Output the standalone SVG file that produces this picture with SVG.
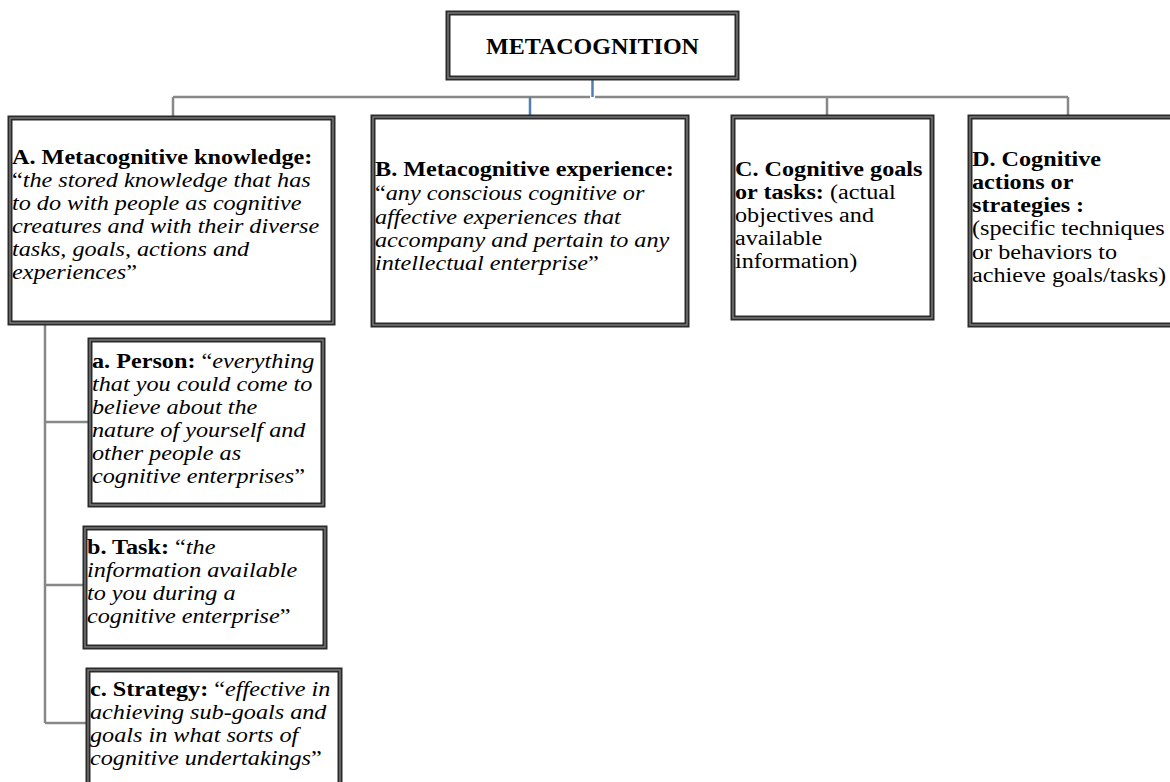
<svg xmlns="http://www.w3.org/2000/svg" width="1170" height="782" viewBox="0 0 1170 782">
<style>
.ob{fill:#fff;stroke:#2a2a2a;stroke-width:5}
.ib{fill:none;stroke:#8a8a8a;stroke-width:1.2}
.t{font-family:"Liberation Serif","Times New Roman",serif;font-size:20px;fill:#000}
.tt{font-family:"Liberation Serif","Times New Roman",serif;font-size:24px;font-weight:bold;fill:#000}
.b{font-weight:bold}
.i{font-style:italic}
.g{stroke:#888;stroke-width:2.5;fill:none}
.bl{stroke:#4f7fb5;stroke-width:2.5;fill:none}
</style>
<rect width="1170" height="782" fill="#fff"/>
<g id="connectors">
<path class="g" d="M173 97H590M595 97H1068M173 97V118M827 97V117M1068 97V117"/>
<path class="bl" d="M592.5 78V97M530 97V117"/>
<path class="g" d="M45 323V723M45 422H90M45 585H85M45 723H88"/>
</g>
<g id="metacognition">
<rect class="ob" x="448" y="13" width="289" height="65"/>
<rect class="ib" x="448" y="13" width="289" height="65"/>
<text class="tt" x="592.5" y="54" text-anchor="middle">METACOGNITION</text>
</g>
<g id="nodeA">
<rect class="ob" x="10" y="118" width="323" height="205"/>
<rect class="ib" x="10" y="118" width="323" height="205"/>
<text class="t" transform="translate(12,0) scale(1.21,1)"><tspan class="b" x="0" y="164">A. Metacognitive knowledge:</tspan><tspan x="0" y="187">“<tspan class="i">the stored knowledge that has</tspan></tspan><tspan class="i" x="0" y="210">to do with people as cognitive</tspan><tspan class="i" x="0" y="233">creatures and with their diverse</tspan><tspan class="i" x="0" y="256">tasks, goals, actions and</tspan><tspan x="0" y="279"><tspan class="i">experiences</tspan>”</tspan></text>
</g>
<g id="nodeB">
<rect class="ob" x="373" y="117" width="314" height="208"/>
<rect class="ib" x="373" y="117" width="314" height="208"/>
<text class="t" transform="translate(375,0) scale(1.21,1)"><tspan class="b" x="0" y="176">B. Metacognitive experience:</tspan><tspan x="0" y="200">“<tspan class="i">any conscious cognitive or</tspan></tspan><tspan class="i" x="0" y="224">affective experiences that</tspan><tspan class="i" x="0" y="247">accompany and pertain to any</tspan><tspan x="0" y="270"><tspan class="i">intellectual enterprise</tspan>”</tspan></text>
</g>
<g id="nodeC">
<rect class="ob" x="733" y="117" width="199" height="201"/>
<rect class="ib" x="733" y="117" width="199" height="201"/>
<text class="t" transform="translate(735,0) scale(1.21,1)"><tspan class="b" x="0" y="176">C. Cognitive goals</tspan><tspan x="0" y="199"><tspan class="b">or tasks:</tspan> (actual</tspan><tspan x="0" y="222">objectives and</tspan><tspan x="0" y="245">available</tspan><tspan x="0" y="268">information)</tspan></text>
</g>
<g id="nodeD">
<rect class="ob" x="970" y="117" width="210" height="208"/>
<rect class="ib" x="970" y="117" width="210" height="208"/>
<text class="t" transform="translate(972,0) scale(1.21,1)"><tspan class="b" x="0" y="166">D. Cognitive</tspan><tspan class="b" x="0" y="189">actions or</tspan><tspan class="b" x="0" y="212">strategies :</tspan><tspan x="0" y="235">(specific techniques</tspan><tspan x="0" y="259">or behaviors to</tspan><tspan x="0" y="282">achieve goals/tasks)</tspan></text>
</g>
<g id="nodeA-a">
<rect class="ob" x="90" y="340" width="233" height="165"/>
<rect class="ib" x="90" y="340" width="233" height="165"/>
<text class="t" transform="translate(92,0) scale(1.21,1)"><tspan x="0" y="368"><tspan class="b">a. Person:</tspan> “<tspan class="i">everything</tspan></tspan><tspan class="i" x="0" y="391">that you could come to</tspan><tspan class="i" x="0" y="414">believe about the</tspan><tspan class="i" x="0" y="437">nature of yourself and</tspan><tspan class="i" x="0" y="460">other people as</tspan><tspan x="0" y="483"><tspan class="i">cognitive enterprises</tspan>”</tspan></text>
</g>
<g id="nodeA-b">
<rect class="ob" x="85" y="528" width="240" height="119"/>
<rect class="ib" x="85" y="528" width="240" height="119"/>
<text class="t" transform="translate(87,0) scale(1.21,1)"><tspan x="0" y="554"><tspan class="b">b. Task:</tspan> “<tspan class="i">the</tspan></tspan><tspan class="i" x="0" y="577">information available</tspan><tspan class="i" x="0" y="600">to you during a</tspan><tspan x="0" y="623"><tspan class="i">cognitive enterprise</tspan>”</tspan></text>
</g>
<g id="nodeA-c">
<rect class="ob" x="88" y="670" width="252" height="125"/>
<rect class="ib" x="88" y="670" width="252" height="125"/>
<text class="t" transform="translate(90,0) scale(1.21,1)"><tspan x="0" y="696"><tspan class="b">c. Strategy:</tspan> “<tspan class="i">effective in</tspan></tspan><tspan class="i" x="0" y="719">achieving sub-goals and</tspan><tspan class="i" x="0" y="742">goals in what sorts of</tspan><tspan x="0" y="765"><tspan class="i">cognitive undertakings</tspan>”</tspan></text>
</g>
</svg>
